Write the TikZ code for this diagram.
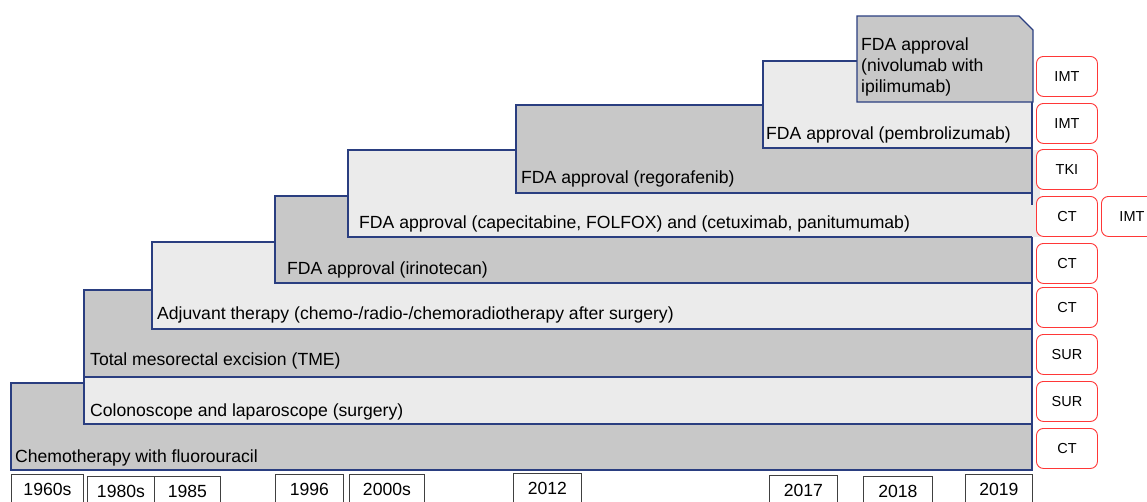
\documentclass[tikz,border=0pt]{standalone}
\usepackage{fontspec}
\setmainfont{Liberation Sans}
\usetikzlibrary{positioning}
\definecolor{stepnavy}{RGB}{42,62,128}
\definecolor{stepdark}{RGB}{200,200,200}
\definecolor{steplight}{RGB}{235,235,235}
\definecolor{tagred}{RGB}{255,55,55}

\begin{document}
\begin{tikzpicture}[x=1pt,y=-1pt]
     \tikzstyle{dark_step} = [draw=stepnavy,fill=stepdark,line width=1.1pt]
     \tikzstyle{light_step} = [draw=stepnavy,fill=steplight,line width=1.1pt]
     \tikzstyle{step_label} = [anchor=base west,inner sep=0pt,font=\fontsize{17.6}{21}\selectfont]
     \tikzstyle{year_style} = [draw=black!75,line width=0.9pt,anchor=north west,minimum height=30pt,inner sep=0pt,font=\fontsize{17.6}{21}\selectfont]
     \tikzstyle{tag_style} = [draw=tagred,fill=white,rounded corners=7pt,line width=0.9pt,anchor=north west,minimum width=61pt,minimum height=40pt,inner sep=0pt,font=\fontsize{14.5}{17}\selectfont]
     \useasboundingbox (0,0) rectangle (1147,501);
     \clip (0,0) rectangle (1147,501);
     % steps, bottom first
     \draw[dark_step]  (11,383) rectangle (1032,470);
     \node[step_label] (chemo) at (15,462) {Chemotherapy with fluorouracil};
     \draw[light_step] (84,337) rectangle (1032,424);
     \node[step_label] (colon) at (90,416) {Colonoscope and laparoscope (surgery)};
     \draw[dark_step]  (84,290) rectangle (1032,377);
     \node[step_label] (tme) at (90,365) {Total mesorectal excision (TME)};
     \draw[light_step] (152,242) rectangle (1032,329);
     \node[step_label] (adjuvant) at (157,319) {Adjuvant therapy (chemo-/radio-/chemoradiotherapy after surgery)};
     \draw[dark_step]  (275,196) rectangle (1032,283);
     \node[step_label] (irino) at (287,274) {FDA approval (irinotecan)};
     \fill[steplight] (348,150) rectangle (1040,237);
     \draw[stepnavy,line width=1.1pt] (1032,237) -- (348,237) -- (348,150) -- (1032,150) -- (1032,205);
     \node[step_label] (capec) at (359,228) {FDA approval (capecitabine, FOLFOX) and (cetuximab, panitumumab)};
     \draw[dark_step]  (516,105) rectangle (1032,193);
     \node[step_label] (rego) at (521,183) {FDA approval (regorafenib)};
     \draw[light_step] (763,61) rectangle (1032,148);
     \node[step_label] (pembro) at (766,139) {FDA approval (pembrolizumab)};
     \draw[dark_step]  (857,102) -- (857,16) -- (1019,16) -- (1033,30) -- (1033,102) -- cycle;
     \node[step_label,align=left] (nivo) at (861,92) {FDA approval\\(nivolumab with\\ipilimumab)};
     % years
     \node[year_style,minimum width=72pt] (y1960) at (11,474) {1960s};
     \node[year_style,minimum width=67pt] (y1980) at (87,476) {1980s};
     \node[year_style,minimum width=66pt] (y1985) at (154,476) {1985};
     \node[year_style,minimum width=68pt] (y1996) at (275,474) {1996};
     \node[year_style,minimum width=75pt] (y2000) at (349,474) {2000s};
     \node[year_style,minimum width=68pt] (y2012) at (513,473) {2012};
     \node[year_style,minimum width=68pt] (y2017) at (769,475) {2017};
     \node[year_style,minimum width=69pt] (y2018) at (863,476) {2018};
     \node[year_style,minimum width=67pt] (y2019) at (965,474) {2019};
     % therapy types
     \node[tag_style] (t_nivo) at (1036,56) {IMT};
     \node[tag_style] (t_pembro) at (1036,103) {IMT};
     \node[tag_style] (t_rego) at (1036,149) {TKI};
     \node[tag_style] (t_capec) at (1036,196) {CT};
     \node[tag_style] (t_cetux) at (1101,196) {IMT};
     \node[tag_style] (t_irino) at (1036,243) {CT};
     \node[tag_style] (t_adjuvant) at (1036,287) {CT};
     \node[tag_style] (t_tme) at (1036,334) {SUR};
     \node[tag_style] (t_colon) at (1036,381) {SUR};
     \node[tag_style] (t_chemo) at (1036,428) {CT};
\end{tikzpicture}
\end{document}
